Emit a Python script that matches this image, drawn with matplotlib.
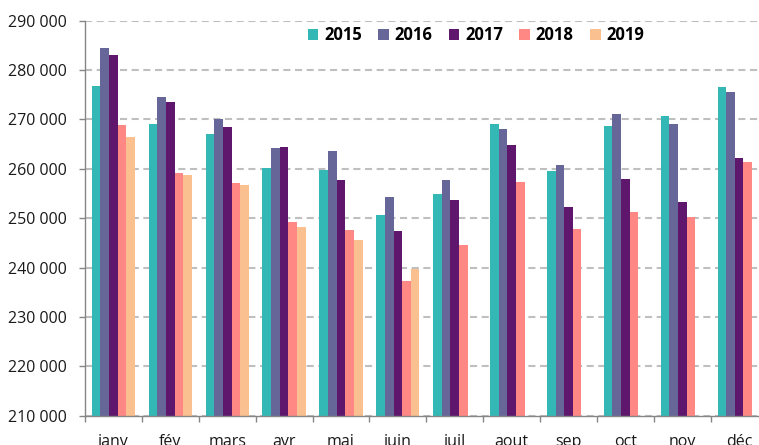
import numpy as np
import matplotlib
matplotlib.use("Agg")
import matplotlib.pyplot as plt
from matplotlib.patches import Patch

months = ["janv", "fév", "mars", "avr", "mai", "juin", "juil", "aout", "sep", "oct", "nov", "déc"]
years = ["2015", "2016", "2017", "2018", "2019"]
v2015 = [276700, 269100, 267000, 260100, 259800, 250600, 254900, 269100, 259500, 268700, 270700, 276600]
v2016 = [284500, 274500, 270100, 264100, 263600, 254300, 257800, 268000, 260700, 271100, 269000, 275500]
v2017 = [283100, 273500, 268500, 264500, 257700, 247500, 253600, 264900, 252200, 258000, 253300, 262200]
v2018 = [268900, 259100, 257100, 249200, 247700, 237300, 244500, 257400, 247800, 251200, 250300, 261400]
v2019 = [266400, 258700, 256700, 248300, 245500, 239800, np.nan, np.nan, np.nan, np.nan, np.nan, np.nan]
yticks = [210000, 220000, 230000, 240000, 250000, 260000, 270000, 280000, 290000]
ytick_labels = ["210 000", "220 000", "230 000", "240 000", "250 000", "260 000", "270 000", "280 000", "290 000"]
colors = ["#33B8B6", "#666699", "#5F176E", "#FF8784", "#FBC08F"]

series = [v2015, v2016, v2017, v2018, v2019]

plt.rcParams['font.family'] = ['Open Sans', 'DejaVu Sans']

fig = plt.figure(figsize=(7.59, 4.45), dpi=100)
ax = fig.add_axes([85 / 759, (445 - 415.8) / 445, 682.6 / 759, (415.8 - 20.5) / 445])

x = np.arange(len(months))
bw = 0.152
for i, (vals, c) in enumerate(zip(series, colors)):
    ax.bar(x + (i - 2) * bw, vals, width=bw, color=c, edgecolor=c, linewidth=0.0, zorder=3)

ax.set_xlim(-0.5, len(months) - 0.5)
ax.set_ylim(210000, 290000)
ax.set_yticks(yticks)
ax.set_yticklabels(ytick_labels)
ax.set_xticks(x)
ax.set_xticklabels(months)
ax.set_xticks(np.arange(len(months) + 1) - 0.5, minor=True)

ax.tick_params(axis='x', which='major', length=0, pad=13, labelsize=11.5, colors='#1a1a1a')
ax.tick_params(axis='x', which='minor', length=4, width=1, color='#868686', direction='out')
ax.tick_params(axis='y', which='major', length=4, width=1, color='#868686', pad=9, labelsize=11.5, labelcolor='#1a1a1a')

ax.yaxis.grid(True, linestyle=(0, (3.4, 2.2)), color='#BFBFBF', linewidth=1.5, zorder=0)
ax.set_axisbelow(True)
for s in ['top', 'right']:
    ax.spines[s].set_visible(False)
for s in ['left', 'bottom']:
    ax.spines[s].set_color('#868686')
    ax.spines[s].set_linewidth(1)
    ax.spines[s].set_zorder(4)

handles = [Patch(facecolor=c, edgecolor='none') for c in colors]
fig.legend(handles, years, loc='center', bbox_to_anchor=(476 / 759, 1 - 35 / 445),
           ncol=5, frameon=False, prop={'weight': 'bold', 'size': 12},
           handlelength=0.65, handleheight=0.65, handletextpad=0.35, columnspacing=0.96, borderpad=0)

fig.savefig("out.png", dpi=100)
